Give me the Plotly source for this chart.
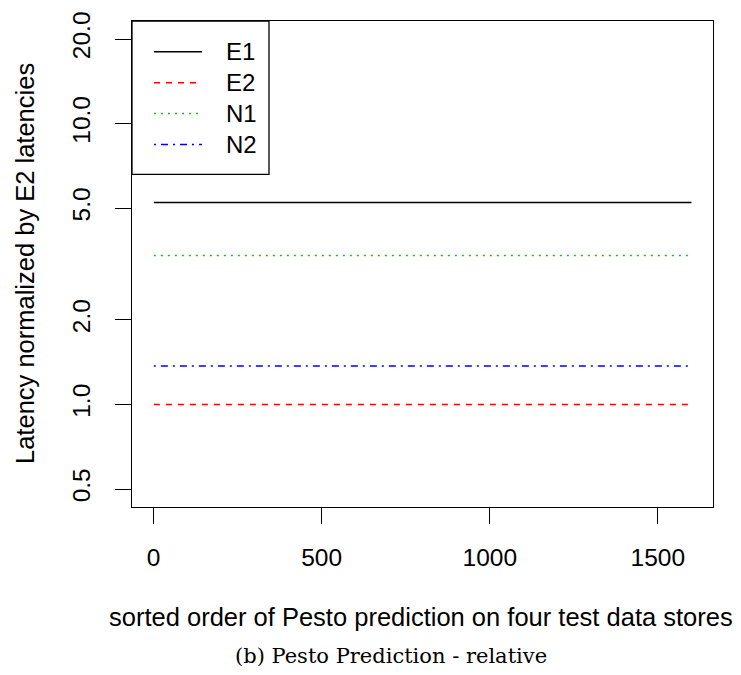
import plotly.graph_objects as go
import math

# ---- data ----
series_names = ["E1", "E2", "N1", "N2"]
series_colors = ["#000000", "#FF0000", "#00CD00", "#0000FF"]
series_dash = ["solid", "6px,6px", "2px,5px", "2px,5px,7px,5px"]
x_ends = [1, 1600]
e1_vals = [5.24, 5.24]
e2_vals = [1.0, 1.0]
n1_vals = [3.39, 3.39]
n2_vals = [1.37, 1.37]
series_vals = [e1_vals, e2_vals, n1_vals, n2_vals]

y_tickvals = [0.5, 1.0, 2.0, 5.0, 10.0, 20.0]
y_ticktext = ["0.5", "1.0", "2.0", "5.0", "10.0", "20.0"]
x_tickvals = [0, 500, 1000, 1500]

W, H = 741, 675
L, R, T, B = 132, 28, 19, 168
pw, ph = W - L - R, H - T - B
FONT = "Liberation Sans, Arial, Helvetica, sans-serif"
FS_TITLE = 25.5
FS_TICK = 24.5
FS_LEG = 24

def px(x):
    return (x - L) / pw

def py(y):
    return (H - B - y) / ph

fig = go.Figure()
for name, col, dash, vals in zip(series_names, series_colors, series_dash, series_vals):
    fig.add_trace(go.Scatter(x=x_ends, y=vals, mode="lines", name=name,
                             line=dict(color=col, width=1.5, dash=dash),
                             showlegend=False))

# R-style 4% axis extension
x0, x1 = 0, 1600
dx = (x1 - x0) * 0.04
ly0, ly1 = math.log10(0.5), math.log10(20)
dy = (ly1 - ly0) * 0.04

shapes = []
annotations = []
# legend box
shapes.append(dict(type="rect", xref="paper", yref="paper",
                   x0=px(132), x1=px(269), y0=py(173), y1=py(19),
                   line=dict(color="black", width=1.3), fillcolor="white", layer="above"))
row_y = [50, 81, 112, 143]
for name, col, dash, yy in zip(series_names, series_colors, series_dash, row_y):
    shapes.append(dict(type="line", xref="paper", yref="paper",
                       x0=px(154), x1=px(202), y0=py(yy), y1=py(yy),
                       line=dict(color=col, width=1.5, dash=dash), layer="above"))
    annotations.append(dict(text=name, xref="paper", yref="paper",
                            x=px(224), y=py(yy), xanchor="left", yanchor="middle",
                            showarrow=False, font=dict(family=FONT, size=FS_LEG, color="black")))

annotations.append(dict(text="sorted order of Pesto prediction on four test data stores",
                        xref="paper", yref="paper", x=px(421), y=py(617),
                        xanchor="center", yanchor="middle", showarrow=False,
                        font=dict(family=FONT, size=FS_TITLE, color="black")))
annotations.append(dict(text="(b) Pesto Prediction - relative",
                        xref="paper", yref="paper", x=px(391), y=py(657),
                        xanchor="center", yanchor="middle", showarrow=False,
                        font=dict(family="DejaVu Serif, Liberation Serif, serif", size=21, color="black")))
annotations.append(dict(text="Latency normalized by E2 latencies",
                        xref="paper", yref="paper", x=px(25), y=py(263),
                        xanchor="center", yanchor="middle", showarrow=False, textangle=-90,
                        font=dict(family=FONT, size=FS_TITLE, color="black")))

fig.update_layout(
    width=W, height=H,
    margin=dict(l=L, r=R, t=T, b=B, pad=0),
    plot_bgcolor="white", paper_bgcolor="white",
    font=dict(family=FONT, size=FS_TICK, color="black"),
    shapes=shapes, annotations=annotations,
    xaxis=dict(range=[x0 - dx, x1 + dx], tickvals=x_tickvals,
               ticks="outside", ticklen=16, tickwidth=1.3, tickcolor="black",
               showgrid=False, zeroline=False, showline=True, linecolor="black",
               linewidth=1.3, mirror=True, ticklabelstandoff=12,
               tickfont=dict(size=FS_TICK)),
    yaxis=dict(type="log", range=[ly0 - dy, ly1 + dy], tickvals=y_tickvals,
               ticktext=y_ticktext, tickangle=-90,
               ticks="outside", ticklen=16, tickwidth=1.3, tickcolor="black",
               showgrid=False, zeroline=False, showline=True, linecolor="black",
               linewidth=1.3, mirror=True, ticklabelstandoff=15,
               tickfont=dict(size=FS_TICK)),
)

fig.write_html("out.html")
